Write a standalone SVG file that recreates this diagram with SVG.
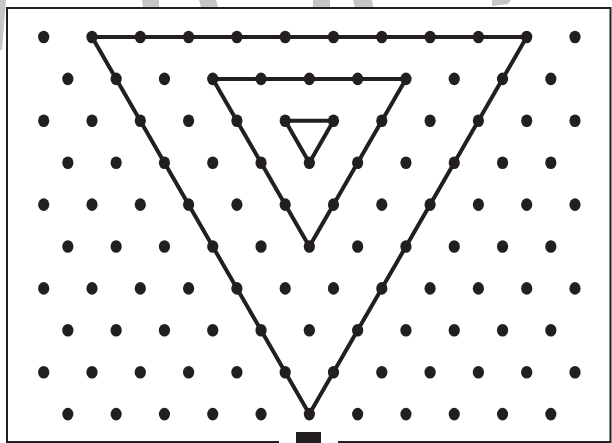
<svg xmlns="http://www.w3.org/2000/svg" xmlns:xlink="http://www.w3.org/1999/xlink" width="612" height="443" viewBox="0 0 612 443">
<style>
.wm{fill:#c6c6c6;stroke:none}
.frame{fill:none;stroke:#231f20;stroke-width:2}
.tri{fill:none;stroke:#231f20;stroke-width:4;stroke-linejoin:round;stroke-linecap:round}
.dot{fill:#231f20}
</style>
<defs>
<ellipse id="d" class="dot" rx="5.6" ry="6.3"/>
</defs>
<rect width="612" height="443" fill="#ffffff"/>
<g id="watermark">
<polygon class="wm" points="0,0 6,0 4,25 2,50 0,50"/>
<polygon class="wm" points="142,0 159,0 159,7 143,7"/>
<polygon class="wm" points="199,0 216,0 218,7 201,7"/>
<polygon class="wm" points="313,0 330,0 330,7 313,7"/>
<polygon class="wm" points="353,0 372,0 373,7 355,7"/>
<polygon class="wm" points="492,0 511,0 508,4 492,6"/>
</g>
<path id="frame" class="frame" d="M279,442 L7,442 L7,8 L610.5,8 L610.5,442 L338,442"/>
<rect id="tab" x="296" y="432" width="25" height="11" fill="#231f20"/>
<g id="connectors">
<path id="tri-large" class="tri" d="M92,37 L526.7,37 L309.35,414.1 Z"/>
<path id="tri-medium" class="tri" d="M212.75,78.9 L405.95,78.9 L309.35,246.5 Z"/>
<path id="tri-small" class="tri" d="M285.2,120.8 L333.5,120.8 L309.35,162.7 Z"/>
</g>
<g id="row0">
<use xlink:href="#d" x="43.7" y="37"/><use xlink:href="#d" x="92" y="37"/><use xlink:href="#d" x="140.3" y="37"/><use xlink:href="#d" x="188.6" y="37"/><use xlink:href="#d" x="236.9" y="37"/><use xlink:href="#d" x="285.2" y="37"/><use xlink:href="#d" x="333.5" y="37"/><use xlink:href="#d" x="381.8" y="37"/><use xlink:href="#d" x="430.1" y="37"/><use xlink:href="#d" x="478.4" y="37"/><use xlink:href="#d" x="526.7" y="37"/><use xlink:href="#d" x="575" y="37"/>
</g>
<g id="row1">
<use xlink:href="#d" x="67.85" y="78.9"/><use xlink:href="#d" x="116.15" y="78.9"/><use xlink:href="#d" x="164.45" y="78.9"/><use xlink:href="#d" x="212.75" y="78.9"/><use xlink:href="#d" x="261.05" y="78.9"/><use xlink:href="#d" x="309.35" y="78.9"/><use xlink:href="#d" x="357.65" y="78.9"/><use xlink:href="#d" x="405.95" y="78.9"/><use xlink:href="#d" x="454.25" y="78.9"/><use xlink:href="#d" x="502.55" y="78.9"/><use xlink:href="#d" x="550.85" y="78.9"/>
</g>
<g id="row2">
<use xlink:href="#d" x="43.7" y="120.8"/><use xlink:href="#d" x="92" y="120.8"/><use xlink:href="#d" x="140.3" y="120.8"/><use xlink:href="#d" x="188.6" y="120.8"/><use xlink:href="#d" x="236.9" y="120.8"/><use xlink:href="#d" x="285.2" y="120.8"/><use xlink:href="#d" x="333.5" y="120.8"/><use xlink:href="#d" x="381.8" y="120.8"/><use xlink:href="#d" x="430.1" y="120.8"/><use xlink:href="#d" x="478.4" y="120.8"/><use xlink:href="#d" x="526.7" y="120.8"/><use xlink:href="#d" x="575" y="120.8"/>
</g>
<g id="row3">
<use xlink:href="#d" x="67.85" y="162.7"/><use xlink:href="#d" x="116.15" y="162.7"/><use xlink:href="#d" x="164.45" y="162.7"/><use xlink:href="#d" x="212.75" y="162.7"/><use xlink:href="#d" x="261.05" y="162.7"/><use xlink:href="#d" x="309.35" y="162.7"/><use xlink:href="#d" x="357.65" y="162.7"/><use xlink:href="#d" x="405.95" y="162.7"/><use xlink:href="#d" x="454.25" y="162.7"/><use xlink:href="#d" x="502.55" y="162.7"/><use xlink:href="#d" x="550.85" y="162.7"/>
</g>
<g id="row4">
<use xlink:href="#d" x="43.7" y="204.6"/><use xlink:href="#d" x="92" y="204.6"/><use xlink:href="#d" x="140.3" y="204.6"/><use xlink:href="#d" x="188.6" y="204.6"/><use xlink:href="#d" x="236.9" y="204.6"/><use xlink:href="#d" x="285.2" y="204.6"/><use xlink:href="#d" x="333.5" y="204.6"/><use xlink:href="#d" x="381.8" y="204.6"/><use xlink:href="#d" x="430.1" y="204.6"/><use xlink:href="#d" x="478.4" y="204.6"/><use xlink:href="#d" x="526.7" y="204.6"/><use xlink:href="#d" x="575" y="204.6"/>
</g>
<g id="row5">
<use xlink:href="#d" x="67.85" y="246.5"/><use xlink:href="#d" x="116.15" y="246.5"/><use xlink:href="#d" x="164.45" y="246.5"/><use xlink:href="#d" x="212.75" y="246.5"/><use xlink:href="#d" x="261.05" y="246.5"/><use xlink:href="#d" x="309.35" y="246.5"/><use xlink:href="#d" x="357.65" y="246.5"/><use xlink:href="#d" x="405.95" y="246.5"/><use xlink:href="#d" x="454.25" y="246.5"/><use xlink:href="#d" x="502.55" y="246.5"/><use xlink:href="#d" x="550.85" y="246.5"/>
</g>
<g id="row6">
<use xlink:href="#d" x="43.7" y="288.4"/><use xlink:href="#d" x="92" y="288.4"/><use xlink:href="#d" x="140.3" y="288.4"/><use xlink:href="#d" x="188.6" y="288.4"/><use xlink:href="#d" x="236.9" y="288.4"/><use xlink:href="#d" x="285.2" y="288.4"/><use xlink:href="#d" x="333.5" y="288.4"/><use xlink:href="#d" x="381.8" y="288.4"/><use xlink:href="#d" x="430.1" y="288.4"/><use xlink:href="#d" x="478.4" y="288.4"/><use xlink:href="#d" x="526.7" y="288.4"/><use xlink:href="#d" x="575" y="288.4"/>
</g>
<g id="row7">
<use xlink:href="#d" x="67.85" y="330.3"/><use xlink:href="#d" x="116.15" y="330.3"/><use xlink:href="#d" x="164.45" y="330.3"/><use xlink:href="#d" x="212.75" y="330.3"/><use xlink:href="#d" x="261.05" y="330.3"/><use xlink:href="#d" x="309.35" y="330.3"/><use xlink:href="#d" x="357.65" y="330.3"/><use xlink:href="#d" x="405.95" y="330.3"/><use xlink:href="#d" x="454.25" y="330.3"/><use xlink:href="#d" x="502.55" y="330.3"/><use xlink:href="#d" x="550.85" y="330.3"/>
</g>
<g id="row8">
<use xlink:href="#d" x="43.7" y="372.2"/><use xlink:href="#d" x="92" y="372.2"/><use xlink:href="#d" x="140.3" y="372.2"/><use xlink:href="#d" x="188.6" y="372.2"/><use xlink:href="#d" x="236.9" y="372.2"/><use xlink:href="#d" x="285.2" y="372.2"/><use xlink:href="#d" x="333.5" y="372.2"/><use xlink:href="#d" x="381.8" y="372.2"/><use xlink:href="#d" x="430.1" y="372.2"/><use xlink:href="#d" x="478.4" y="372.2"/><use xlink:href="#d" x="526.7" y="372.2"/><use xlink:href="#d" x="575" y="372.2"/>
</g>
<g id="row9">
<use xlink:href="#d" x="67.85" y="414.1"/><use xlink:href="#d" x="116.15" y="414.1"/><use xlink:href="#d" x="164.45" y="414.1"/><use xlink:href="#d" x="212.75" y="414.1"/><use xlink:href="#d" x="261.05" y="414.1"/><use xlink:href="#d" x="309.35" y="414.1"/><use xlink:href="#d" x="357.65" y="414.1"/><use xlink:href="#d" x="405.95" y="414.1"/><use xlink:href="#d" x="454.25" y="414.1"/><use xlink:href="#d" x="502.55" y="414.1"/><use xlink:href="#d" x="550.85" y="414.1"/>
</g>
</svg>
